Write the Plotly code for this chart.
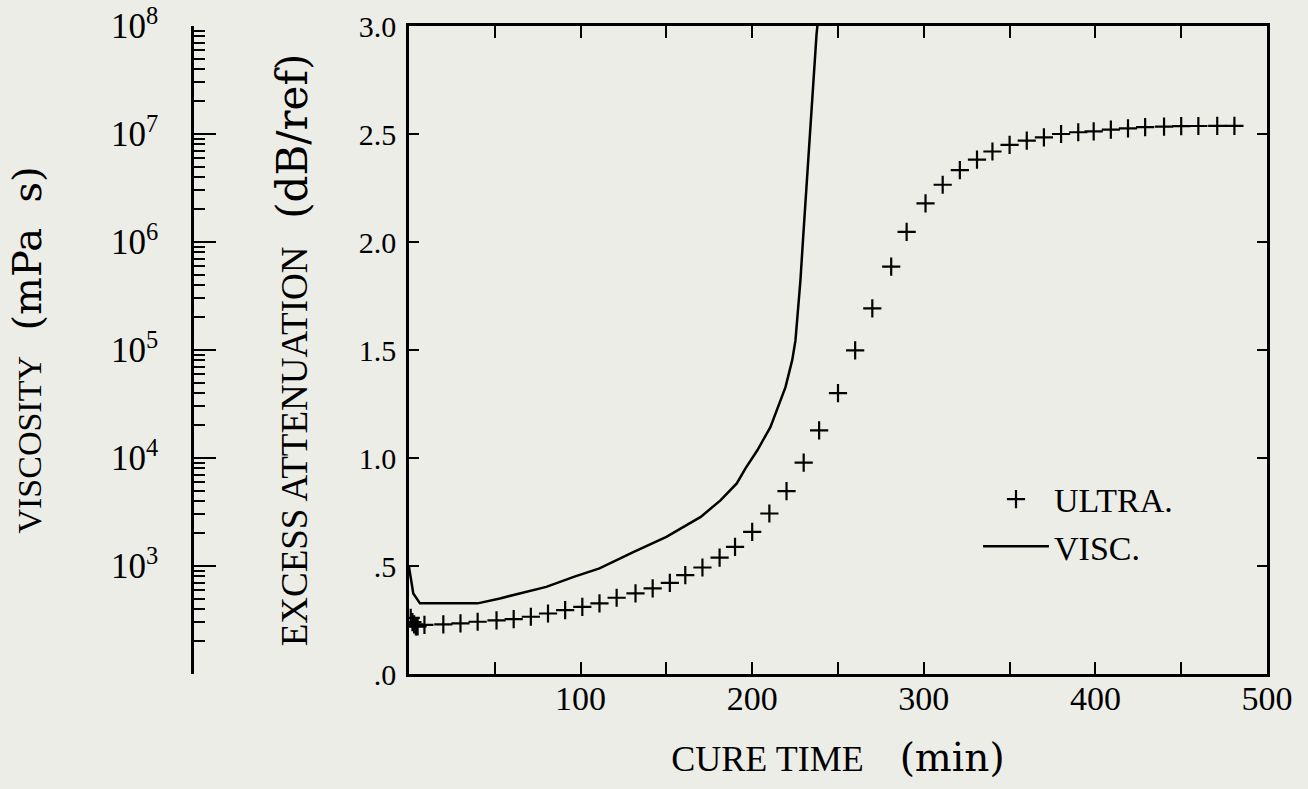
import plotly.graph_objects as go

# ---- data ----
ultra_time = [1, 2, 3, 4, 5, 9, 20, 30, 40, 51, 61, 71, 81, 91, 101, 111, 121, 132, 142,
              152, 161, 171, 181, 190, 200, 210, 220, 230, 239, 250, 260, 270, 281, 290,
              301, 311, 321, 331, 340, 350, 360, 370, 380, 390, 399, 409, 419, 429, 440,
              450, 460, 471, 481]
ultra_atten = [0.26, 0.24, 0.23, 0.22, 0.22, 0.227, 0.230, 0.234, 0.242, 0.248, 0.254,
               0.265, 0.280, 0.296, 0.311, 0.327, 0.353, 0.373, 0.396, 0.422, 0.458,
               0.493, 0.539, 0.589, 0.658, 0.743, 0.847, 0.979, 1.128, 1.300, 1.498,
               1.693, 1.886, 2.047, 2.179, 2.265, 2.333, 2.381, 2.419, 2.450, 2.469,
               2.484, 2.500, 2.508, 2.512, 2.520, 2.526, 2.532, 2.534, 2.536, 2.537,
               2.538, 2.538]

visc_time = [0, 2.5, 6.4, 40, 53, 80, 96, 111, 131, 150, 170, 181.5, 191, 196, 203,
             210.6, 219.4, 223.3, 225.2, 227.1, 228.1, 229.7, 231.0, 232.4, 234.0,
             235.9, 237.5, 238.5]
visc_mpas = [980, 557, 451, 451, 501, 641, 794, 951, 1350, 1862, 2850, 4050, 5810,
             7980, 11800, 19300, 45300, 80200, 122000, 268000, 441000, 1.11e6, 2.25e6,
             5.65e6, 1.32e7, 3.84e7, 8.4e7, 1.2e8]

x_tickvals = [100, 200, 300, 400, 500]
x_ticktext = ["100", "200", "300", "400", "500"]
y_tickvals = [0, 0.5, 1.0, 1.5, 2.0, 2.5, 3.0]
y_ticktext = [".0", ".5", "1.0", "1.5", "2.0", "2.5", "3.0"]
v_tickvals = [1e3, 1e4, 1e5, 1e6, 1e7, 1e8]
v_ticktext = ["10<sup>3</sup>", "10<sup>4</sup>", "10<sup>5</sup>",
              "10<sup>6</sup>", "10<sup>7</sup>", "10<sup>8</sup>"]
v_minor = [1e2] + [m * 10 ** e for e in range(2, 8) for m in range(2, 10)]

BG = "#edede7"
FONT = "Liberation Serif"
UNIT_FONT = "DejaVu Serif"
NB = "\u00a0"

fig = go.Figure()
fig.add_trace(go.Scatter(
    x=ultra_time, y=ultra_atten, mode="markers", name="ULTRA.",
    marker=dict(symbol="cross-thin", size=13, line=dict(width=2.2, color="black"),
                color="black"),
    xaxis="x", yaxis="y"))
fig.add_trace(go.Scatter(
    x=visc_time, y=visc_mpas, mode="lines", name="VISC.",
    line=dict(color="black", width=2.5), xaxis="x", yaxis="y2"))

W, H = 1308, 789
ml, mr, mt, mb = 0, 41, 26, 115
pw = W - ml - mr
x_left = 409
visc_axis_x = 192

axis_common = dict(showline=True, linecolor="black", linewidth=2.5, showgrid=False,
                   zeroline=False, ticks="inside", tickcolor="black", tickwidth=2,
                   automargin=False)

fig.update_layout(
    width=W, height=H,
    margin=dict(l=ml, r=mr, t=mt, b=mb),
    paper_bgcolor=BG, plot_bgcolor=BG,
    font=dict(family=FONT, color="black", size=32),
    showlegend=True,
    legend=dict(x=(978 - ml) / pw, y=0.314, xanchor="left", yanchor="top",
                bgcolor="rgba(0,0,0,0)", font=dict(family=FONT, size=34),
                itemwidth=66, tracegroupgap=0),
    xaxis=dict(**axis_common, domain=[(x_left - ml) / pw, 1], range=[0, 500],
               tickvals=x_tickvals, ticktext=x_ticktext, ticklen=12, mirror="ticks",
               minor=dict(ticks="inside", dtick=50, tick0=0, ticklen=12,
                          tickwidth=2, tickcolor="black", showgrid=False),
               tickfont=dict(size=34), ticklabelstandoff=-8,
               title=dict(text="CURE TIME" + NB * 4 +
                               f"<span style=\"font-family:{UNIT_FONT};font-size:39px\">(min)</span>",
                          font=dict(size=36), standoff=31)),
    yaxis=dict(**axis_common, range=[0, 3], tickvals=y_tickvals, ticktext=y_ticktext,
               ticklen=10, mirror="ticks", tickfont=dict(size=30), ticklabelstandoff=4,
               title=dict(text=NB * 2 + "EXCESS ATTENUATION" + NB * 3 +
                               f"<span style=\"font-family:{UNIT_FONT};font-size:42px\">(dB/ref)</span>",
                          font=dict(size=37), standoff=40)),
    yaxis2=dict(**axis_common, type="log", range=[2, 8], overlaying="y", anchor="free",
                side="left", position=(visc_axis_x - ml) / pw,
                tickvals=v_tickvals, ticktext=v_ticktext, ticklen=22,
                minor=dict(ticks="inside", tickvals=v_minor, ticklen=11, tickwidth=1.5,
                           tickcolor="black", showgrid=False),
                tickfont=dict(size=35), ticklabelstandoff=26,
                title=dict(text=NB * 2 + "VISCOSITY" + NB * 3 +
                                f"<span style=\"font-family:{UNIT_FONT};font-size:40px\">(mPa{NB}{NB}s)</span>",
                           font=dict(size=34), standoff=58)),
)

fig.write_html("out.html")
